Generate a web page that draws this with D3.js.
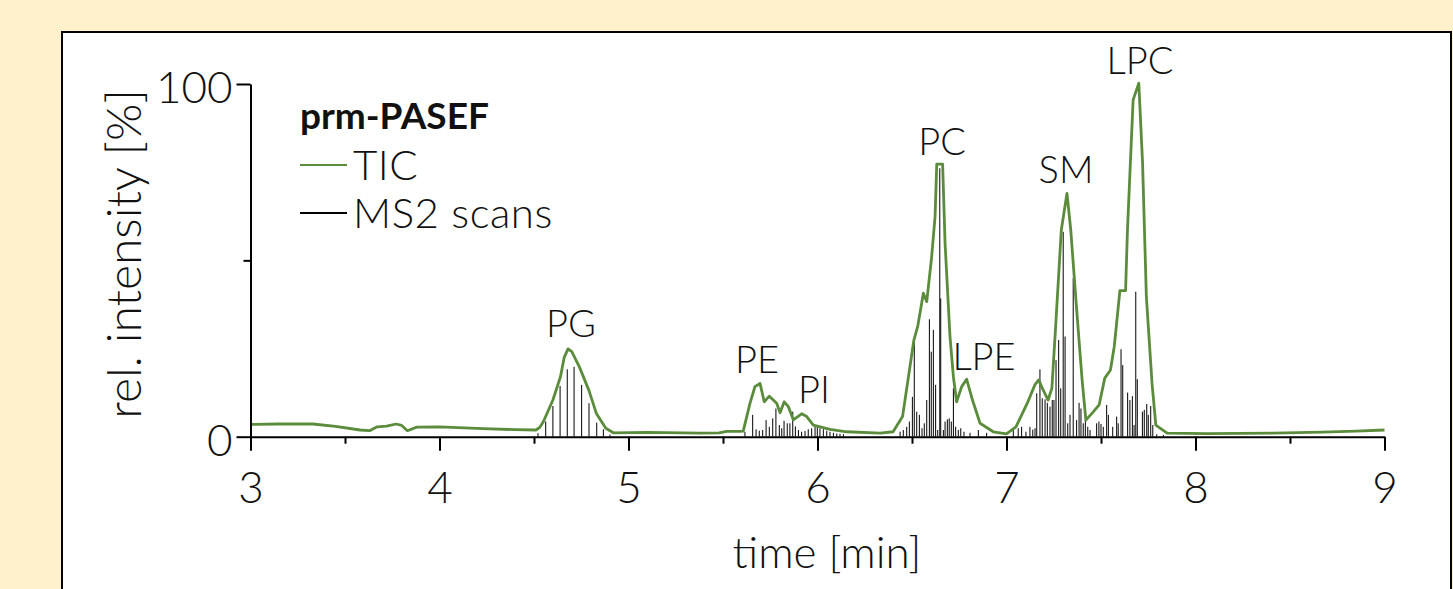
<!DOCTYPE html>
<html lang="en">
<head>
  <meta charset="UTF-8">
  <title>prm-PASEF TIC</title>
  <style>
    html, body { margin: 0; padding: 0; background: #fef1cc; }
    svg { display: block; }
    text { font-family: Lato, "Open Sans", sans-serif; font-weight: 300; fill: #111; }
    .axis path, .axis line { stroke: #000; stroke-width: 2px; }
    .axis text { font-size: 44px; fill: #111; }
  </style>
</head>
<body>
  <div id="chart"></div>
  <script src="https://cdn.jsdelivr.net/npm/d3@7"></script>
  <script>
    // TIC trace: [time (min), rel. intensity (%)]
    const tic = [
      [3.00, 3.5], [3.15, 3.6], [3.33, 3.6], [3.45, 2.9], [3.58, 1.9], [3.63, 1.7], [3.67, 2.8],
      [3.72, 3.0], [3.77, 3.6], [3.80, 3.2], [3.83, 1.7], [3.88, 2.7], [4.00, 2.8], [4.23, 2.3],
      [4.40, 2.0], [4.51, 1.9], [4.53, 2.6], [4.55, 4.3], [4.60, 10.4], [4.64, 17.0], [4.66, 22.5],
      [4.68, 24.9], [4.70, 24.1], [4.74, 19.8], [4.79, 13.2], [4.83, 6.6], [4.88, 2.4], [4.92, 1.1],
      [5.10, 1.2], [5.38, 1.0], [5.48, 1.1], [5.52, 1.5], [5.59, 1.5], [5.607, 1.6], [5.643, 9.5],
      [5.669, 14.2], [5.696, 15.1], [5.718, 9.9], [5.745, 11.5], [5.784, 9.5], [5.802, 6.8],
      [5.824, 9.9], [5.846, 8.5], [5.872, 4.8], [5.916, 6.5], [5.943, 5.7], [5.978, 3.3],
      [6.066, 2.1], [6.155, 1.4], [6.331, 1.0], [6.40, 1.4], [6.45, 5.7], [6.51, 27.4], [6.53, 31.2],
      [6.56, 40.7], [6.578, 38.3], [6.604, 51.0], [6.622, 62.4], [6.631, 77.3], [6.662, 77.3],
      [6.675, 54.8], [6.701, 28.4], [6.719, 17.0], [6.736, 9.9], [6.763, 14.2], [6.789, 16.3],
      [6.82, 10.4], [6.86, 3.8], [6.93, 1.4], [7.00, 0.8], [7.05, 2.8], [7.11, 9.5], [7.15, 14.7],
      [7.17, 16.1], [7.19, 13.7], [7.22, 10.4], [7.24, 13.7], [7.26, 31.2], [7.29, 58.6], [7.32, 69.0],
      [7.34, 58.6], [7.37, 36.9], [7.40, 16.1], [7.42, 4.7], [7.46, 7.1], [7.49, 9.0], [7.52, 16.6],
      [7.55, 18.9], [7.57, 25.5], [7.60, 41.4], [7.63, 41.4], [7.64, 58.6], [7.67, 95.5], [7.70, 100.2],
      [7.72, 77.5], [7.74, 39.7], [7.77, 15.1], [7.79, 3.3], [7.85, 1.0], [8.06, 0.9], [8.41, 1.0],
      [8.67, 1.3], [8.85, 1.6], [9.00, 1.9]
    ];

    // MS2 scans: [time (min), rel. intensity (%)]
    const scans = [
      [4.521, 1.0], [4.562, 4.3], [4.600, 8.7], [4.638, 14.4], [4.676, 19.1], [4.712, 19.8],
      [4.752, 14.7], [4.791, 9.5], [4.832, 4.0], [4.867, 2.1], [4.902, 0.6],
      [5.616, 1.4], [5.657, 6.2], [5.675, 2.1], [5.692, 1.7], [5.710, 1.9], [5.728, 4.7],
      [5.745, 2.8], [5.763, 5.2], [5.780, 8.0], [5.798, 3.3], [5.811, 2.4], [5.823, 4.5],
      [5.840, 3.8], [5.854, 3.8], [5.869, 7.1], [5.883, 2.9], [5.899, 1.9], [5.916, 1.4],
      [5.934, 1.6], [5.951, 2.1], [5.969, 2.4], [5.987, 2.8], [5.999, 2.8], [6.013, 2.4],
      [6.031, 2.1], [6.049, 1.7], [6.066, 1.4], [6.084, 1.1], [6.102, 0.9], [6.119, 0.8], [6.137, 0.7],
      [6.437, 1.4], [6.454, 1.9], [6.472, 2.8], [6.486, 4.3], [6.502, 11.3], [6.512, 27.4],
      [6.525, 7.1], [6.539, 6.2], [6.553, 2.4], [6.565, 3.8], [6.578, 10.4], [6.592, 33.3],
      [6.602, 24.1], [6.613, 30.3], [6.625, 14.7], [6.636, 1.9], [6.647, 76.1], [6.652, 39.2],
      [6.666, 1.9], [6.675, 4.3], [6.687, 4.9], [6.697, 5.2], [6.708, 4.3], [6.719, 13.7],
      [6.731, 2.8], [6.745, 1.9], [6.758, 2.4], [6.775, 1.4], [6.807, 1.1], [6.851, 1.9], [6.895, 1.1],
      [7.036, 1.9], [7.062, 2.4], [7.080, 2.8], [7.103, 1.4], [7.124, 2.8], [7.139, 2.0], [7.151, 2.4],
      [7.160, 12.3], [7.177, 19.1], [7.189, 10.9], [7.204, 10.6], [7.216, 9.6], [7.230, 8.5],
      [7.242, 10.4], [7.251, 10.4], [7.262, 21.7], [7.276, 27.4], [7.287, 13.7], [7.300, 58.1],
      [7.310, 28.4], [7.324, 3.8], [7.336, 6.2], [7.353, 45.0], [7.371, 4.7], [7.384, 9.6],
      [7.394, 8.0], [7.406, 3.8], [7.417, 4.7], [7.430, 2.8], [7.442, 1.9], [7.477, 3.8],
      [7.489, 4.3], [7.500, 3.6], [7.512, 2.8], [7.530, 9.0], [7.539, 6.2], [7.562, 2.8],
      [7.583, 5.7], [7.591, 3.8], [7.606, 24.8], [7.615, 20.3], [7.641, 12.5], [7.653, 10.4],
      [7.666, 11.5], [7.675, 3.3], [7.684, 41.1], [7.692, 16.3], [7.719, 7.1], [7.729, 7.6],
      [7.742, 9.3], [7.750, 6.2], [7.763, 8.7], [7.774, 3.3], [7.795, 0.7], [7.830, 0.5]
    ];

    // lipid class labels, placed at [time, rel. intensity]
    const peakNames = ['PG', 'PE', 'PI', 'PC', 'LPE', 'SM', 'LPC'];
    const peakTimes = [4.696, 5.680, 5.981, 6.659, 6.881, 7.315, 7.706];
    const peakLevels = [28.3, 18.1, 9.6, 79.9, 18.9, 71.9, 102.8];

    const xMajorTicks = [3, 4, 5, 6, 7, 8, 9];
    const xMinorTicks = [3.5, 4.5, 5.5, 6.5, 7.5, 8.5];
    const yMajorTicks = [0, 100];
    const yMinorTicks = [50];

    const legendItems = ['TIC', 'MS2 scans'];

    const W = 1453, H = 589;
    const green = '#5a8c3c';

    const svg = d3.select('#chart').append('svg')
      .attr('width', W)
      .attr('height', H);

    svg.append('rect')
      .attr('width', W).attr('height', H)
      .attr('fill', '#fef1cc');

    // white panel
    svg.append('rect')
      .attr('x', 62).attr('y', 32)
      .attr('width', 1389).attr('height', 600)
      .attr('fill', '#fff')
      .attr('stroke', '#000')
      .attr('stroke-width', 2);

    const x = d3.scaleLinear().domain([3, 9]).range([250.5, 1384.5]);
    const y = d3.scaleLinear().domain([0, 100]).range([436.7, 84]);

    // MS2 scan sticks
    svg.append('g')
      .selectAll('line')
      .data(scans)
      .join('line')
      .attr('x1', d => x(d[0]))
      .attr('x2', d => x(d[0]))
      .attr('y1', y(0))
      .attr('y2', d => y(d[1]))
      .attr('stroke', '#000')
      .attr('stroke-width', 1);

    // TIC
    const line = d3.line()
      .x(d => x(d[0]))
      .y(d => y(d[1]));

    svg.append('path')
      .datum(tic)
      .attr('d', line)
      .attr('fill', 'none')
      .attr('stroke', green)
      .attr('stroke-width', 2.8)
      .attr('stroke-linejoin', 'round');

    // x axis
    const gx = svg.append('g')
      .attr('class', 'axis')
      .attr('transform', `translate(0,${y(0)})`);

    gx.append('g')
      .call(d3.axisBottom(x).tickValues(xMinorTicks).tickSize(7).tickSizeOuter(0).tickFormat(''))
      .call(g => g.select('.domain').remove());

    gx.append('g')
      .call(d3.axisBottom(x).tickValues(xMajorTicks).tickSize(14).tickSizeOuter(0).tickFormat(d3.format('d')))
      .call(g => g.selectAll('text').attr('y', 66).attr('dy', 0));

    // y axis
    const gy = svg.append('g')
      .attr('class', 'axis')
      .attr('transform', `translate(${x(3)},0)`);

    gy.append('g')
      .call(d3.axisLeft(y).tickValues(yMinorTicks).tickSize(7).tickSizeOuter(0).tickFormat(''))
      .call(g => g.select('.domain').remove());

    gy.append('g')
      .call(d3.axisLeft(y).tickValues(yMajorTicks).tickSize(14).tickSizeOuter(0).tickFormat(d3.format('d')))
      .call(g => g.selectAll('text').attr('x', -18).attr('dy', '0.42em'));

    // axis titles
    svg.append('text')
      .attr('x', 827).attr('y', 568)
      .attr('text-anchor', 'middle')
      .style('font-size', '44px')
      .text('time [min]');

    svg.append('text')
      .attr('transform', 'translate(141,254) rotate(-90)')
      .attr('text-anchor', 'middle')
      .style('font-size', '48px')
      .text('rel. intensity [%]');

    // peak labels
    svg.append('g')
      .selectAll('text')
      .data(peakNames)
      .join('text')
      .attr('x', (d, i) => x(peakTimes[i]))
      .attr('y', (d, i) => y(peakLevels[i]))
      .attr('text-anchor', 'middle')
      .style('font-size', '38px')
      .text(d => d);

    // legend
    const lg = svg.append('g').attr('transform', 'translate(300,129)');
    lg.append('text')
      .attr('x', 0).attr('y', 0)
      .style('font-size', '37px')
      .style('font-weight', 'bold')
      .text('prm-PASEF');

    const items = lg.selectAll('.item')
      .data(legendItems)
      .join('g')
      .attr('class', 'item')
      .attr('transform', (d, i) => `translate(0,${36 + i * 48})`);

    items.append('line')
      .attr('x1', 0).attr('x2', 47)
      .attr('stroke', (d, i) => i === 0 ? green : '#000')
      .attr('stroke-width', 2);

    items.append('text')
      .attr('x', 53).attr('y', 15)
      .style('font-size', '42px')
      .style('letter-spacing', '0.5px')
      .text(d => d);
  </script>
</body>
</html>
